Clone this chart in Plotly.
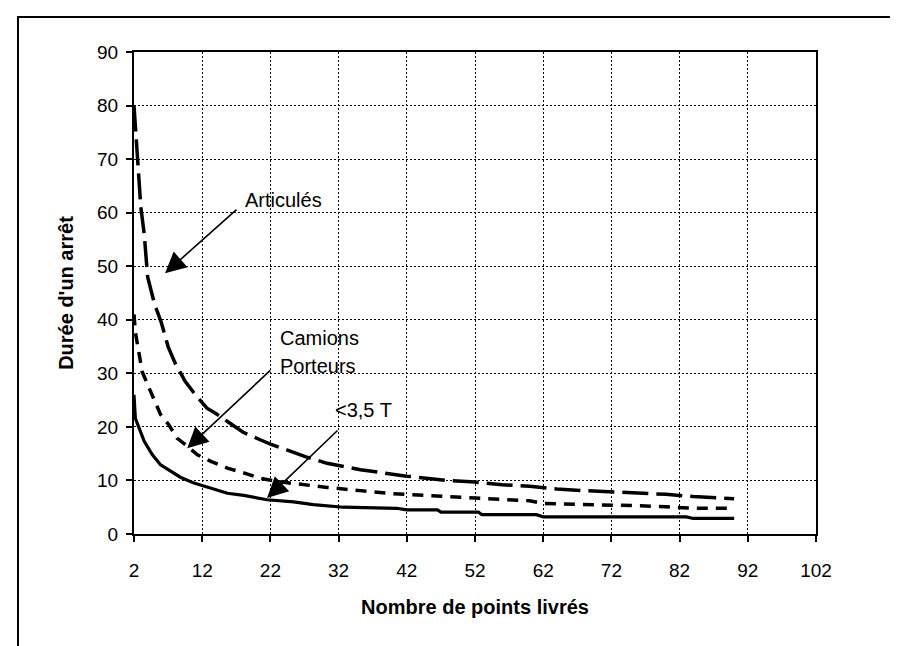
import plotly.graph_objects as go

# Durée d'un arrêt vs nombre de points livrés
x_articules = [2, 2.5, 3, 3.5, 4, 5, 6, 7, 8, 9.5, 11, 12.7, 14, 15.7, 18, 20.5, 22,
               24.4, 27, 30.3, 35.2, 42, 45, 48, 52, 56, 60, 64, 68, 74, 80, 84, 88, 90]
y_articules = [80, 70, 61, 56, 48, 43, 39.5, 35, 32, 28.5, 26, 23.5, 22.5, 21, 19, 17.6, 16.8,
               15.7, 14.5, 13.2, 12, 10.8, 10.4, 10, 9.7, 9.2, 8.9, 8.4, 8.1, 7.8, 7.4, 7, 6.8, 6.6]

x_porteurs = [2, 2.2, 2.7, 3.2, 4, 4.7, 5.9, 7.1, 8.3, 9.8, 11.3, 13.2, 15.7, 18.1, 20.5,
              23, 25.4, 28.3, 30.3, 35.2, 40, 45, 50, 55, 60, 62, 67, 70, 75, 80, 84, 90]
y_porteurs = [41, 37.7, 34, 30.3, 27.9, 25.7, 22.3, 20.4, 17.9, 16.4, 14.8, 13.6, 12.3, 11.4, 10.4,
              9.8, 9.4, 9.0, 8.7, 8.1, 7.5, 7.2, 6.9, 6.6, 6.2, 5.7, 5.6, 5.4, 5.3, 5.1, 4.8, 4.8]

x_petits = [2, 2.2, 3.5, 4.7, 5.9, 7.4, 8.8, 10.8, 13.2, 15.7, 18.1, 21.5, 25.4, 28.3, 32.7,
            40.5, 42, 46.5, 47, 52.5, 53, 61, 62, 83, 84, 90]
y_petits = [26, 21.6, 17.3, 14.8, 12.9, 11.7, 10.6, 9.5, 8.6, 7.6, 7.2, 6.4, 6.0, 5.5, 5.0,
            4.8, 4.5, 4.5, 4.1, 4.1, 3.6, 3.6, 3.2, 3.2, 2.9, 2.9]

x_ticks = [2, 12, 22, 32, 42, 52, 62, 72, 82, 92, 102]
y_ticks = [0, 10, 20, 30, 40, 50, 60, 70, 80, 90]

FONT = "Liberation Sans, Arial, sans-serif"

fig = go.Figure()
fig.add_trace(go.Scatter(x=x_articules, y=y_articules, mode="lines",
                         line=dict(color="black", width=3.5, dash="26px,8px")))
fig.add_trace(go.Scatter(x=x_porteurs, y=y_porteurs, mode="lines",
                         line=dict(color="black", width=3.5, dash="11px,8px")))
fig.add_trace(go.Scatter(x=x_petits, y=y_petits, mode="lines",
                         line=dict(color="black", width=3.2)))

# arrows (head at x,y ; tail at ax,ay)
arrows = [(6.55, 48.7, 17.25, 60.8), (9.8, 16.0, 22.2, 30.8), (21.5, 6.7, 32.06, 19.6)]
for hx, hy, tx, ty in arrows:
    fig.add_annotation(x=hx, y=hy, ax=tx, ay=ty, xref="x", yref="y", axref="x", ayref="y",
                       text="", showarrow=True, arrowhead=2, arrowsize=2.6,
                       arrowwidth=1.6, arrowcolor="black", standoff=0, startstandoff=0)

labels = [("Articulés", 18.0, 62.3), ("Camions", 23.1, 36.6),
          ("Porteurs", 23.1, 31.3), ("<3,5 T", 31.2, 23.1)]
for txt, lx, ly in labels:
    fig.add_annotation(x=lx, y=ly, xref="x", yref="y", text=txt, showarrow=False,
                       xanchor="left", yanchor="middle",
                       font=dict(family=FONT, size=20, color="black"))

# outer frame (open at the bottom of the picture)
fig.add_shape(type="rect", xref="paper", yref="paper",
              x0=(10 - 126) / 682, x1=(887 - 126) / 682,
              y0=(526 - 700) / 482, y1=(526 - 9) / 482,
              line=dict(color="black", width=2), fillcolor="rgba(0,0,0,0)")

axis_common = dict(showline=True, linecolor="black", linewidth=2, mirror=True,
                   ticks="outside", ticklen=6, tickcolor="black", tickwidth=1.5,
                   showgrid=True, gridcolor="black", gridwidth=1, griddash="2px,2px",
                   zeroline=False, tickfont=dict(family=FONT, size=19, color="black"))

fig.update_xaxes(range=[2, 102], tickvals=x_ticks, ticktext=[str(v) for v in x_ticks],
                 ticklabelstandoff=12,
                 title=dict(text="<b>Nombre de points livrés</b>", standoff=20,
                            font=dict(family=FONT, size=20, color="black")),
                 **axis_common)
fig.update_yaxes(range=[0, 90], tickvals=y_ticks, ticklabelstandoff=4,
                 title=dict(text="<b>Durée d'un arrêt</b>", standoff=18,
                            font=dict(family=FONT, size=20, color="black")),
                 **axis_common)

fig.update_layout(width=898, height=646, showlegend=False,
                  plot_bgcolor="white", paper_bgcolor="white",
                  margin=dict(l=126, r=90, t=44, b=120, autoexpand=False),
                  font=dict(family=FONT, color="black"))

fig.write_html("out.html")
